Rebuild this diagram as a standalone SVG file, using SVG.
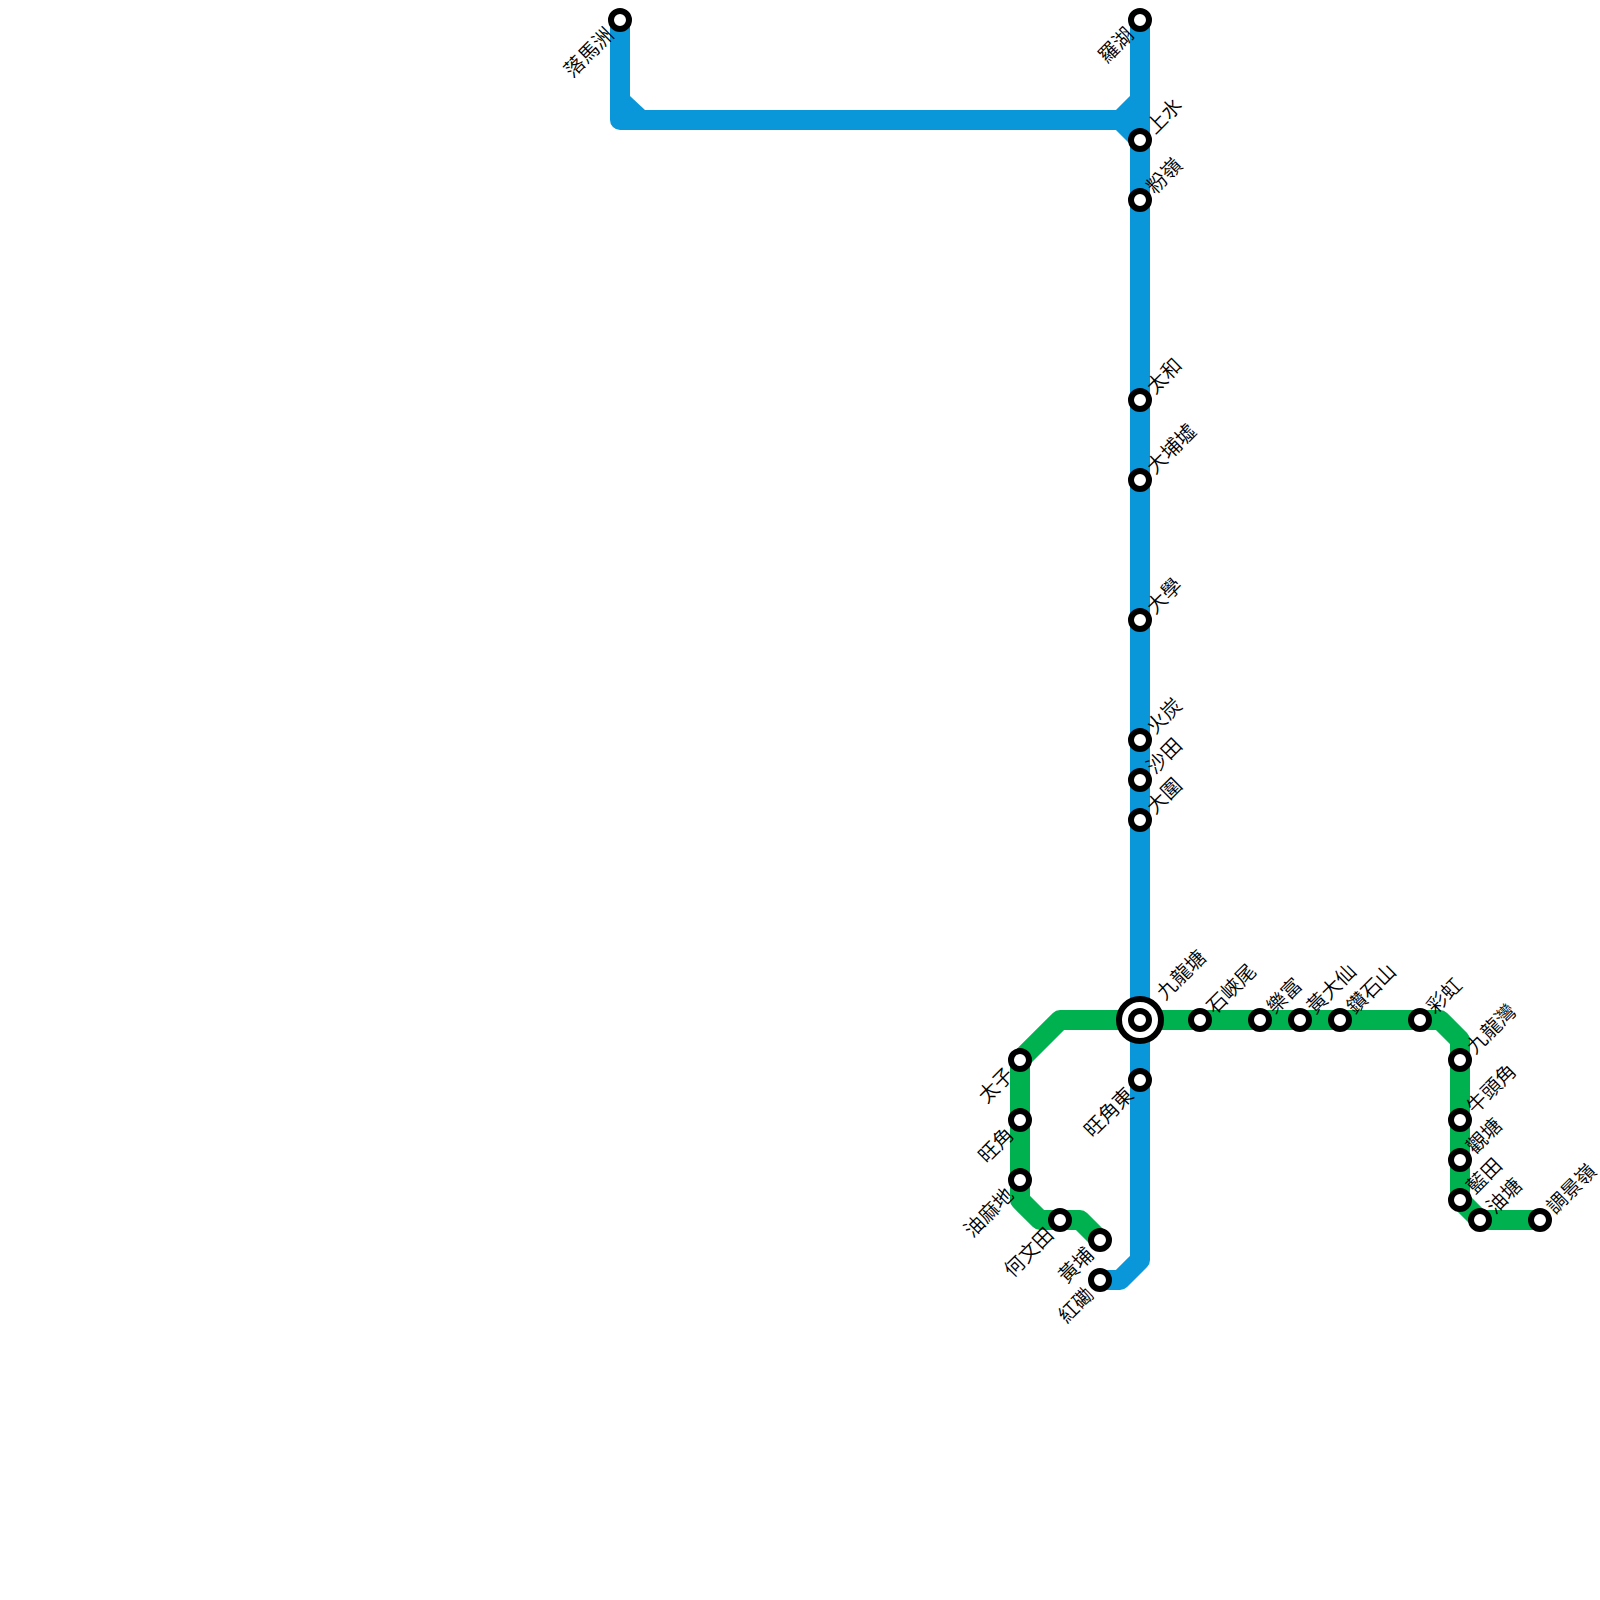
<svg xmlns="http://www.w3.org/2000/svg" width="1600" height="1600" viewBox="0 0 1600 1600">
<style>
.line{fill:none;stroke-width:20;stroke-linejoin:round}
.blue{stroke:#0a97d9}
.green{stroke:#00b14f}
.st{fill:#fff;stroke:#000;stroke-width:6}
text{font-family:"Noto Sans CJK TC","Liberation Sans",sans-serif;font-size:20px;font-weight:350;fill:#000}
.e{text-anchor:end}
</style>
<rect width="1600" height="1600" fill="#fff"/>
<g id="connectors">
<path class="line green" d="M1020 1060L1060 1020H1440L1460 1040V1200L1480 1220H1540"/>
<path class="line green" d="M1020 1060V1200L1040 1220H1080L1100 1240"/>
<path class="line blue" d="M620 20V120H1120L1140 140"/>
<path style="fill:#0a97d9;stroke:none" d="M630 96L645 110H630Z"/>
<path class="line blue" d="M1120 120L1140 100"/>
<path class="line blue" d="M1140 20V1260L1120 1280H1100"/>
</g>
<g id="n-lmc"><circle class="st" cx="620" cy="20" r="9"/><text class="e" transform="translate(615 36) rotate(-45)">落馬洲</text></g>
<g id="n-lw"><circle class="st" cx="1140" cy="20" r="9"/><text class="e" transform="translate(1135 36) rotate(-45)">羅湖</text></g>
<g id="n-ss"><circle class="st" cx="1140" cy="140" r="9"/><text transform="translate(1155 135) rotate(-45)">上水</text></g>
<g id="n-fl"><circle class="st" cx="1140" cy="200" r="9"/><text transform="translate(1155 195) rotate(-45)">粉嶺</text></g>
<g id="n-tw"><circle class="st" cx="1140" cy="400" r="9"/><text transform="translate(1155 395) rotate(-45)">太和</text></g>
<g id="n-tp"><circle class="st" cx="1140" cy="480" r="9"/><text transform="translate(1155 475) rotate(-45)">大埔墟</text></g>
<g id="n-un"><circle class="st" cx="1140" cy="620" r="9"/><text transform="translate(1155 615) rotate(-45)">大學</text></g>
<g id="n-ft"><circle class="st" cx="1140" cy="740" r="9"/><text transform="translate(1155 735) rotate(-45)">火炭</text></g>
<g id="n-st"><circle class="st" cx="1140" cy="780" r="9"/><text transform="translate(1155 775) rotate(-45)">沙田</text></g>
<g id="n-tw2"><circle class="st" cx="1140" cy="820" r="9"/><text transform="translate(1155 815) rotate(-45)">大圍</text></g>
<g id="n-kt"><circle cx="1140" cy="1020" r="21" class="st"/><circle class="st" cx="1140" cy="1020" r="9"/><text transform="translate(1165 1001) rotate(-45)">九龍塘</text></g>
<g id="n-mk"><circle class="st" cx="1140" cy="1080" r="9"/><text class="e" transform="translate(1135 1096) rotate(-45)">旺角東</text></g>
<g id="n-hh"><circle class="st" cx="1100" cy="1280" r="9"/><text class="e" transform="translate(1095 1296) rotate(-45)">紅磡</text></g>
<g id="n-pe"><circle class="st" cx="1020" cy="1060" r="9"/><text class="e" transform="translate(1015 1076) rotate(-45)">太子</text></g>
<g id="n-mo"><circle class="st" cx="1020" cy="1120" r="9"/><text class="e" transform="translate(1015 1136) rotate(-45)">旺角</text></g>
<g id="n-ym"><circle class="st" cx="1020" cy="1180" r="9"/><text class="e" transform="translate(1015 1196) rotate(-45)">油麻地</text></g>
<g id="n-ho"><circle class="st" cx="1060" cy="1220" r="9"/><text class="e" transform="translate(1055 1236) rotate(-45)">何文田</text></g>
<g id="n-wh"><circle class="st" cx="1100" cy="1240" r="9"/><text class="e" transform="translate(1095 1256) rotate(-45)">黃埔</text></g>
<g id="n-sk"><circle class="st" cx="1200" cy="1020" r="9"/><text transform="translate(1215 1015) rotate(-45)">石峽尾</text></g>
<g id="n-lf"><circle class="st" cx="1260" cy="1020" r="9"/><text transform="translate(1275 1015) rotate(-45)">樂富</text></g>
<g id="n-wt"><circle class="st" cx="1300" cy="1020" r="9"/><text transform="translate(1315 1015) rotate(-45)">黃大仙</text></g>
<g id="n-dh"><circle class="st" cx="1340" cy="1020" r="9"/><text transform="translate(1355 1015) rotate(-45)">鑽石山</text></g>
<g id="n-ch"><circle class="st" cx="1420" cy="1020" r="9"/><text transform="translate(1435 1015) rotate(-45)">彩虹</text></g>
<g id="n-kb"><circle class="st" cx="1460" cy="1060" r="9"/><text transform="translate(1475 1055) rotate(-45)">九龍灣</text></g>
<g id="n-ng"><circle class="st" cx="1460" cy="1120" r="9"/><text transform="translate(1475 1115) rotate(-45)">牛頭角</text></g>
<g id="n-kg"><circle class="st" cx="1460" cy="1160" r="9"/><text transform="translate(1475 1155) rotate(-45)">觀塘</text></g>
<g id="n-lt"><circle class="st" cx="1460" cy="1200" r="9"/><text transform="translate(1475 1195) rotate(-45)">藍田</text></g>
<g id="n-yt"><circle class="st" cx="1480" cy="1220" r="9"/><text transform="translate(1495 1215) rotate(-45)">油塘</text></g>
<g id="n-tk"><circle class="st" cx="1540" cy="1220" r="9"/><text transform="translate(1555 1215) rotate(-45)">調景嶺</text></g>
</svg>
